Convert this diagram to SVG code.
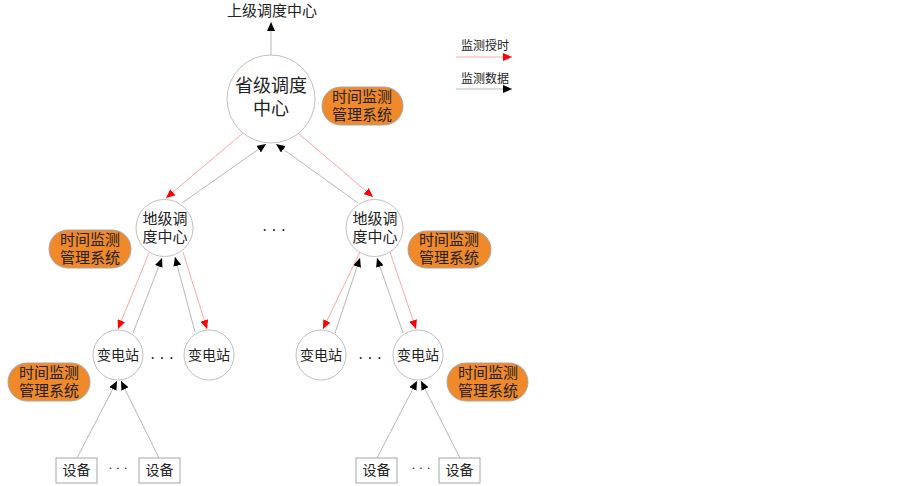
<svg xmlns="http://www.w3.org/2000/svg" width="903" height="486" viewBox="0 0 903 486">
<style>
text{font-family:"Liberation Serif","Noto Sans CJK SC",serif;fill:#222;text-anchor:middle}
.c{fill:#fff;stroke:#BFBFBF;stroke-width:1}
.b{fill:#fff;stroke:#A6A6A6;stroke-width:1}
.p{fill:#F0892A;stroke:#A6A6A6;stroke-width:1}
.g{stroke:#B8B8B8;stroke-width:1;fill:none;marker-end:url(#ab)}
.r{stroke:#FFA6A6;stroke-width:1;fill:none;marker-end:url(#ar)}
.f15{font-size:15px}
</style>
<defs>
<marker id="ab" markerUnits="userSpaceOnUse" markerWidth="9" markerHeight="8" refX="9" refY="4" orient="auto"><path d="M0,0 L9,4 L0,8 z" fill="#000"/></marker>
<marker id="ar" markerUnits="userSpaceOnUse" markerWidth="9" markerHeight="8" refX="9" refY="4" orient="auto"><path d="M0,0 L9,4 L0,8 z" fill="#FF0000"/></marker>
</defs>
<g id="connectors">
<line class="g" x1="271" y1="55" x2="271" y2="22"/>
<line class="r" x1="243" y1="133" x2="166" y2="198"/>
<line class="g" x1="182" y1="203" x2="266" y2="144"/>
<line class="r" x1="298" y1="133" x2="373" y2="197"/>
<line class="g" x1="358" y1="203" x2="276" y2="144"/>
<line class="r" x1="149" y1="253" x2="118" y2="329"/>
<line class="g" x1="133" y1="333" x2="162" y2="258"/>
<line class="g" x1="195" y1="332" x2="175" y2="257"/>
<line class="r" x1="183" y1="252" x2="207" y2="329"/>
<line class="r" x1="360" y1="252" x2="323" y2="329"/>
<line class="g" x1="335" y1="333" x2="360" y2="258"/>
<line class="g" x1="403" y1="333" x2="377" y2="258"/>
<line class="r" x1="390" y1="252" x2="416" y2="329"/>
<line class="g" x1="77" y1="458" x2="117" y2="381"/>
<line class="g" x1="159" y1="458" x2="121" y2="381"/>
<line class="g" x1="377" y1="458" x2="417" y2="381"/>
<line class="g" x1="460" y1="458" x2="421" y2="381"/>
<line class="r" x1="456" y1="57" x2="512" y2="57"/>
<line class="g" x1="456" y1="89" x2="512" y2="89"/>
</g>
<g id="legend">
<text x="485" y="50" style="font-size:12px">监测授时</text>
<text x="485" y="83" style="font-size:12px">监测数据</text>
</g>
<g id="upper"><text x="272" y="16" class="f15">上级调度中心</text></g>
<g id="province">
<circle class="c" cx="271" cy="99" r="44"/>
<text x="271" y="92" style="font-size:18px">省级调度</text>
<text x="271" y="115" style="font-size:18px">中心</text>
</g>
<g id="tms1"><rect class="p" x="322" y="87" width="81" height="38" rx="19"/><text x="362" y="102" class="f15">时间监测</text><text x="362" y="120" class="f15">管理系统</text></g>
<g id="district1">
<circle class="c" cx="164.5" cy="228" r="28.5"/>
<text x="165" y="224" class="f15">地级调</text>
<text x="165" y="242" class="f15">度中心</text>
</g>
<g id="tms2"><rect class="p" x="49" y="230" width="82" height="38" rx="19"/><text x="90" y="245" class="f15">时间监测</text><text x="90" y="263" class="f15">管理系统</text></g>
<g id="district2">
<circle class="c" cx="374.5" cy="228" r="28.5"/>
<text x="375" y="224" class="f15">地级调</text>
<text x="375" y="242" class="f15">度中心</text>
</g>
<g id="tms3"><rect class="p" x="408" y="231" width="83" height="37" rx="18.5"/><text x="449" y="245" class="f15">时间监测</text><text x="449" y="263" class="f15">管理系统</text></g>
<g id="dots1"><text x="274" y="236" style="font-size:16px">· · ·</text></g>
<g id="sub1"><circle class="c" cx="118" cy="355" r="25"/><text x="118" y="360" style="font-size:14px">变电站</text></g>
<g id="sub2"><circle class="c" cx="209" cy="355" r="25"/><text x="209" y="360" style="font-size:14px">变电站</text></g>
<g id="dots2"><text x="162" y="364" style="font-size:16px">· · ·</text></g>
<g id="sub3"><circle class="c" cx="321" cy="355" r="25"/><text x="321" y="360" style="font-size:14px">变电站</text></g>
<g id="sub4"><circle class="c" cx="418" cy="355" r="25"/><text x="418" y="360" style="font-size:14px">变电站</text></g>
<g id="dots3"><text x="370" y="364" style="font-size:16px">· · ·</text></g>
<g id="tms4"><rect class="p" x="8" y="363" width="82" height="38" rx="19"/><text x="49" y="378" class="f15">时间监测</text><text x="49" y="396" class="f15">管理系统</text></g>
<g id="tms5"><rect class="p" x="447" y="363" width="81" height="38" rx="19"/><text x="488" y="378" class="f15">时间监测</text><text x="488" y="396" class="f15">管理系统</text></g>
<g id="dev1"><rect class="b" x="56" y="458" width="41" height="25"/><text x="76.5" y="475" style="font-size:14px">设备</text></g>
<g id="dev2"><rect class="b" x="139" y="458" width="41" height="25"/><text x="159.5" y="475" style="font-size:14px">设备</text></g>
<g id="dots4"><text x="118" y="472" style="font-size:13px">· · ·</text></g>
<g id="dev3"><rect class="b" x="356" y="458" width="41" height="25"/><text x="376.5" y="475" style="font-size:14px">设备</text></g>
<g id="dev4"><rect class="b" x="439" y="458" width="41" height="25"/><text x="459.5" y="475" style="font-size:14px">设备</text></g>
<g id="dots5"><text x="421" y="472" style="font-size:13px">· · ·</text></g>
</svg>
